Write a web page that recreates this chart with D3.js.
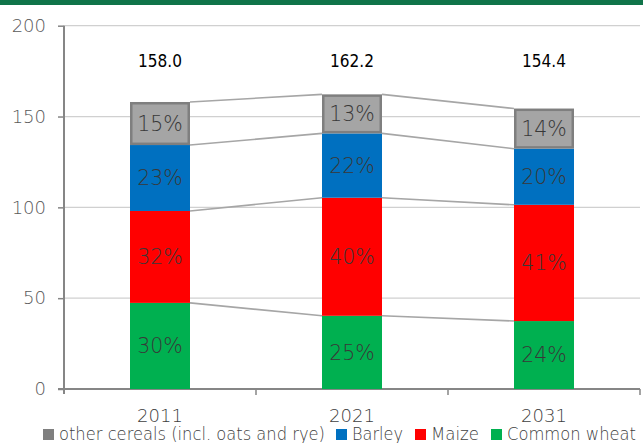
<!DOCTYPE html>
<html>
<head>
<meta charset="utf-8">
<script src="https://cdn.jsdelivr.net/npm/d3@7"></script>
<style>
  body { margin: 0; background: #fff; }
  text { font-family: "DejaVu Sans", sans-serif; }
</style>
</head>
<body>
<div id="chart"></div>
<script>

// data

const years = ["2011", "2021", "2031"]
const commonWheat = [47.4, 40.3, 37.4]
const maize = [50.6, 65.0, 64.0]
const barley = [36.3, 35.4, 30.9]
const otherCereals = [23.7, 21.5, 22.1]
const totals = [158.0, 162.2, 154.4]
const yTicks = [0, 50, 100, 150, 200]

const seriesNames = ["Common wheat", "Maize", "Barley", "other cereals (incl. oats and rye)"]
const seriesColors = ["#00b050", "#ff0000", "#0070c0", "#a5a5a5"]

// constants

const width = 643
const height = 443
const margin = {top: 25.7, bottom: 54, left: 64, right: 3}

const rows = years.map((y, i) => ({
  year: y,
  "Common wheat": commonWheat[i],
  "Maize": maize[i],
  "Barley": barley[i],
  "other cereals (incl. oats and rye)": otherCereals[i],
  total: totals[i]
}))

const stack = d3.stack().keys(seriesNames)(rows)

// scales

const xScale = d3.scaleBand()
  .domain(years)
  .range([margin.left, width - margin.right])
  .paddingInner(0.6875)
  .paddingOuter(0.34375)

const yScale = d3.scaleLinear()
  .domain([0, 200])
  .range([height - margin.bottom, margin.top])

const svg = d3.select("#chart")
  .append("svg")
  .attr("width", width)
  .attr("height", height)

// green band on top
svg.append("rect")
  .attr("x", 0).attr("y", 0)
  .attr("width", width).attr("height", 5)
  .attr("fill", "#107449")

// grid
svg.selectAll(".grid")
  .data(yTicks.filter(d => d > 0))
  .join("line")
  .attr("class", "grid")
  .attr("x1", margin.left)
  .attr("x2", width - margin.right)
  .attr("y1", d => yScale(d))
  .attr("y2", d => yScale(d))
  .attr("stroke", "#d0d0d0")
  .attr("stroke-width", 1.2)

// axes
const yAxis = d3.axisLeft(yScale)
  .tickValues(yTicks)
  .tickSize(6)
  .tickPadding(12)

const yAxisGroup = svg.append("g")
  .attr("transform", `translate(${margin.left}, 0)`)
  .call(yAxis)
yAxisGroup.select(".domain").remove()
yAxisGroup.selectAll(".tick line").attr("stroke", "#868686").attr("stroke-width", 1.5)
yAxisGroup.selectAll(".tick text")
  .attr("font-size", 18)
  .attr("fill", "#595959")
  .style("font-family", "\"DejaVu Sans\", sans-serif")
  .style("font-weight", 200)

svg.append("line")
  .attr("x1", margin.left).attr("x2", margin.left)
  .attr("y1", yScale(200)).attr("y2", yScale(0) + 5)
  .attr("stroke", "#868686").attr("stroke-width", 2)

svg.append("line")
  .attr("x1", margin.left - 6).attr("x2", width - margin.right)
  .attr("y1", yScale(0)).attr("y2", yScale(0))
  .attr("stroke", "#868686").attr("stroke-width", 2)

// category boundary ticks
const step = xScale.step()
svg.selectAll(".xtick")
  .data(years.slice(1).concat(["end"]))
  .join("line")
  .attr("class", "xtick")
  .attr("x1", (d, i) => margin.left + step * (i + 1))
  .attr("x2", (d, i) => margin.left + step * (i + 1))
  .attr("y1", yScale(0))
  .attr("y2", yScale(0) + 6)
  .attr("stroke", "#868686").attr("stroke-width", 1.5)

svg.selectAll(".xlabel")
  .data(years)
  .join("text")
  .attr("class", "xlabel")
  .attr("x", d => xScale(d) + xScale.bandwidth() / 2)
  .attr("y", 422)
  .attr("text-anchor", "middle")
  .attr("font-size", 18)
  .attr("font-weight", 200)
  .attr("fill", "#404040")
  .text(d => d)

// connector lines
const bw = xScale.bandwidth()
stack.forEach(layer => {
  for (let i = 0; i < years.length - 1; i++) {
    svg.append("line")
      .attr("x1", xScale(years[i]) + bw)
      .attr("x2", xScale(years[i + 1]))
      .attr("y1", yScale(layer[i][1]))
      .attr("y2", yScale(layer[i + 1][1]))
      .attr("stroke", "#a6a6a6")
      .attr("stroke-width", 1.6)
  }
})

// bars
stack.forEach((layer, k) => {
  const isOther = k === 3
  svg.selectAll(".bar" + k)
    .data(layer)
    .join("rect")
    .attr("class", "bar" + k)
    .attr("x", (d, i) => xScale(years[i]) + (isOther ? 1.25 : 0))
    .attr("width", bw - (isOther ? 2.5 : 0))
    .attr("y", d => yScale(d[1]) + (isOther ? 1.25 : 0))
    .attr("height", d => yScale(d[0]) - yScale(d[1]) - (isOther ? 2.5 : 0))
    .attr("fill", seriesColors[k])
    .attr("stroke", isOther ? "#7f7f7f" : "none")
    .attr("stroke-width", isOther ? 2.5 : 0)

  svg.selectAll(".pct" + k)
    .data(layer)
    .join("text")
    .attr("class", "pct" + k)
    .attr("x", (d, i) => xScale(years[i]) + bw / 2)
    .attr("y", d => yScale((d[0] + d[1]) / 2))
    .attr("dy", "0.36em")
    .attr("text-anchor", "middle")
    .attr("font-size", 20.5)
    .attr("font-weight", 200)
    .attr("fill", "#383838")
    .text((d, i) => Math.round((d[1] - d[0]) / totals[i] * 100) + "%")
})

// totals
svg.selectAll(".total")
  .data(totals)
  .join("text")
  .attr("class", "total")
  .attr("x", (d, i) => xScale(years[i]) + bw / 2)
  .attr("y", 67)
  .attr("text-anchor", "middle")
  .attr("font-size", 17)
  .attr("fill", "#000")
  .attr("textLength", 44)
  .attr("lengthAdjust", "spacingAndGlyphs")
  .text(d => d.toFixed(1))

// legend
const legendOrder = [3, 2, 1, 0]
const legendX = [43, 336, 415, 491]
const legendTextWidth = [266, 51, 48, 129]
legendOrder.forEach((k, j) => {
  const g = svg.append("g").attr("transform", `translate(${legendX[j]}, 0)`)
  g.append("rect")
    .attr("x", 0).attr("y", 429)
    .attr("width", 11).attr("height", 11)
    .attr("fill", k === 3 ? "#7f7f7f" : seriesColors[k])
  g.append("text")
    .attr("x", 16).attr("y", 440)
    .attr("font-size", 18)
    .attr("font-weight", 200)
    .attr("fill", "#404040")
    .attr("textLength", legendTextWidth[j])
    .attr("lengthAdjust", "spacingAndGlyphs")
    .text(seriesNames[k])
})

</script>
</body>
</html>
